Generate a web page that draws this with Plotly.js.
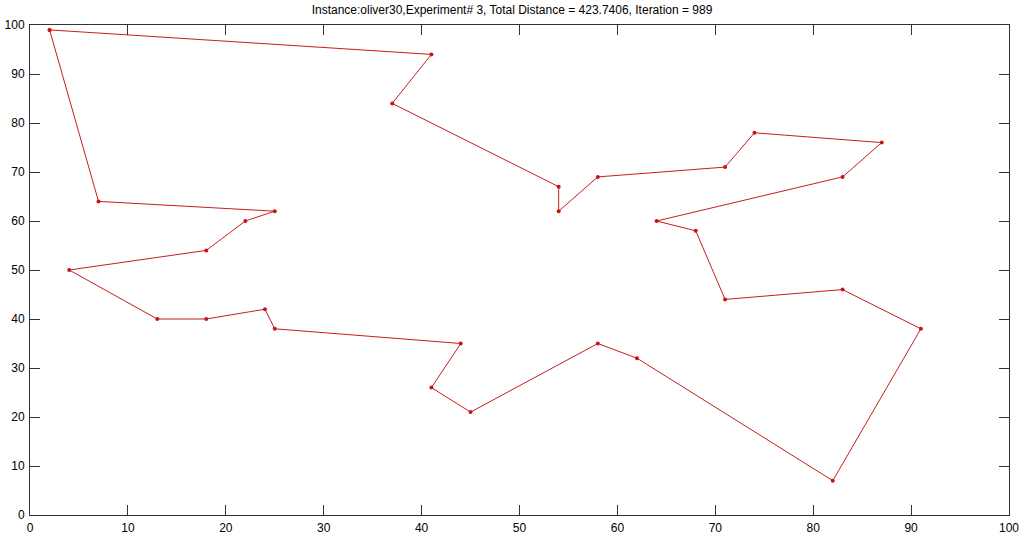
<!DOCTYPE html>
<html>
<head>
<meta charset="utf-8">
<script src="https://cdn.plot.ly/plotly-3.0.1.min.js"></script>
<style>html,body{margin:0;padding:0;background:#fff;}#chart{width:1024px;height:539px;}</style>
</head>
<body>
<div id="chart"></div>
<script>
// Tour order (oliver30) as drawn, closed back to the first city
const tourX = [2, 41, 37, 54, 54, 58, 71, 74, 87, 83, 64, 68, 71, 83, 91, 82, 62, 58, 45, 41, 44, 25, 24, 18, 13, 4, 18, 22, 25, 7, 2];
const tourY = [99, 94, 84, 67, 62, 69, 71, 78, 76, 69, 60, 58, 44, 46, 38, 7, 32, 35, 21, 26, 35, 38, 42, 40, 40, 50, 54, 60, 62, 64, 99];
const tickVals = [0, 10, 20, 30, 40, 50, 60, 70, 80, 90, 100];
const titleText = 'Instance:oliver30,Experiment# 3, Total Distance = 423.7406, Iteration = 989';

const axisCommon = {
  range: [0, 100],
  tickvals: tickVals,
  ticks: 'inside',
  ticklen: 10,
  tickwidth: 1,
  tickcolor: '#333',
  showline: true,
  linecolor: '#333',
  linewidth: 1,
  mirror: 'ticks',
  showgrid: false,
  zeroline: false,
  tickfont: {family: 'Liberation Sans, Arial, sans-serif', size: 12, color: '#000'}
};

Plotly.newPlot('chart', [{
  x: tourX, y: tourY,
  type: 'scatter', mode: 'lines+markers',
  line: {color: 'rgb(200,30,30)', width: 1},
  marker: {color: 'rgb(200,20,20)', size: 4},
  hoverinfo: 'none'
}], {
  width: 1024, height: 539,
  margin: {l: 30, r: 15, t: 25, b: 24},
  paper_bgcolor: '#fff', plot_bgcolor: '#fff',
  showlegend: false,
  title: {text: titleText, x: 0.5, xanchor: 'center', y: 0.99, yanchor: 'top',
          font: {family: 'Liberation Sans, Arial, sans-serif', size: 12, color: '#000'}},
  xaxis: Object.assign({}, axisCommon, {ticklabelstandoff: 2}),
  yaxis: Object.assign({}, axisCommon, {ticklabelstandoff: 2})
}, {staticPlot: true});
</script>
</body>
</html>
